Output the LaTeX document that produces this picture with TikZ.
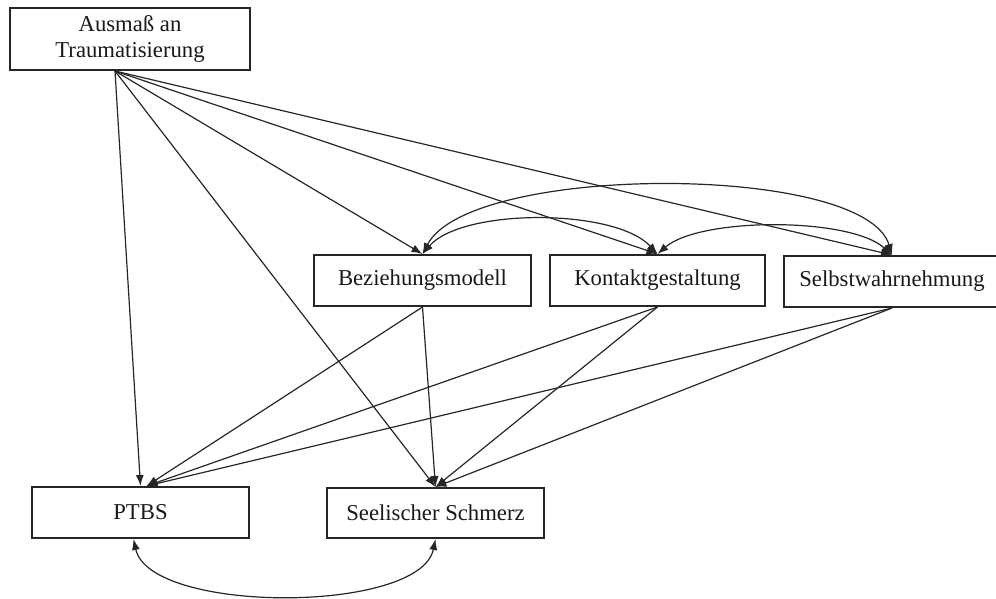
\documentclass[tikz,border=0pt]{standalone}
\usepackage{fontspec}
\setmainfont{Liberation Serif}
\usetikzlibrary{arrows.meta,calc}
\begin{document}
\begin{tikzpicture}[x=1pt,y=-1pt,
  box/.style={draw=black!85, line width=2pt, fill=white, inner sep=0pt,
    minimum width=217pt, minimum height=51pt, align=center,
    font=\fontsize{22.7}{26}\selectfont, text=black!90},
  tip/.style={-{Latex[length=11pt,width=8pt]}},
  reg/.style={draw=black!85, line width=1.2pt, tip},
  cov/.style={draw=black!85, line width=1.2pt,
    {Latex[length=11pt,width=8pt]}-{Latex[length=11pt,width=8pt]}}]
\useasboundingbox (0,0) rectangle (996,598);

% variables
\node[box, minimum width=240pt, minimum height=62pt] (A) at (130,39)
  {Ausmaß an\\Traumatisierung};
\node[box] (B) at (422.5,280.5) {Beziehungsmodell};
\node[box, minimum width=215pt] (K) at (657.5,280.5) {Kontaktgestaltung};
\node[box] (S) at (892,281.5) {Selbstwahrnehmung};
\node[box] (P) at (140.5,512.5) {PTBS};
\node[box, minimum height=50pt] (SS) at (435.5,513) {Seelischer Schmerz};

% ports
\coordinate (Aout) at ($(A.south)+(-15,0)$);
\coordinate (Pin) at ($(P.north)+(6,0)$);
\coordinate (Pbot) at ($(P.south)+(-7,0)$);

% paths from the trauma score
\draw[reg] (Aout) -- (B.north);
\draw[reg] (Aout) -- (K.north);
\draw[reg] (Aout) -- (S.north);
\draw[reg] (Aout) -- (P.north);
\draw[reg] (Aout) -- (SS.north);

% paths from the mediators
\draw[reg] (B.south) -- (Pin);
\draw[reg] (B.south) -- (SS.north);
\draw[reg] (K.south) -- (Pin);
\draw[reg] (K.south) -- (SS.north);
\draw[reg] (S.south) -- (Pin);
\draw[reg] (S.south) -- (SS.north);

% covariances
\draw[cov] (B.north) .. controls (462,208) and (615,208) .. (K.north);
\draw[cov] (K.north) .. controls (700,217) and (850,217) .. (S.north);
\draw[cov] (B.north) .. controls (470,163) and (865,163) .. (S.north);
\draw[cov] (Pbot) .. controls (150,614) and (420,614) .. (SS.south);
\end{tikzpicture}
\end{document}
